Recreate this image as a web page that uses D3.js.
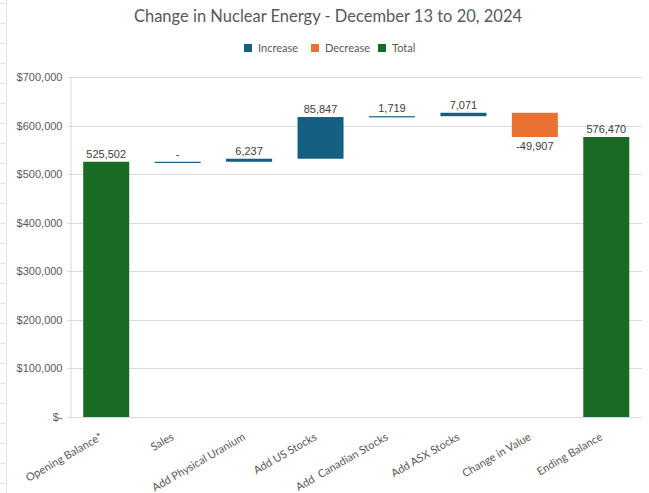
<!DOCTYPE html>
<html><head><meta charset="utf-8">
<script src="https://cdn.jsdelivr.net/npm/d3@7"></script>
<style>body{margin:0;background:#fff;} svg{display:block;}</style>
</head><body>
<svg id="chart" width="649" height="493"></svg>
<script>
const categories = ["Opening Balance*", "Sales", "Add Physical Uranium", "Add US Stocks", "Add  Canadian Stocks", "Add ASX Stocks", "Change in Value", "Ending Balance"];
const values = [525502, 0, 6237, 85847, 1719, 7071, -49907, 576470];
const kinds = ["Total", "Increase", "Increase", "Increase", "Increase", "Increase", "Decrease", "Total"];
const yTicks = [0, 100000, 200000, 300000, 400000, 500000, 600000, 700000];
const legendItems = ["Increase", "Decrease", "Total"];
const colors = {Increase: "#156082", Decrease: "#E97132", Total: "#196B24"};

const svg = d3.select("#chart");
const W = 649, H = 493;
const plot = {left: 70.5, right: 642, top: 77, bottom: 417};
const fmt = d3.formatLocale({decimal: ".", thousands: ",", grouping: [3], currency: ["$", ""], minus: "-"}).format(",");

// faint sheet gridlines at left edge
const sheet = svg.append("g");
sheet.append("line").attr("x1", 6.5).attr("x2", 6.5).attr("y1", 0).attr("y2", H).attr("stroke", "#e4e4e4");
for (let y = 3.5; y < H; y += 20) {
  sheet.append("line").attr("x1", 0).attr("x2", 6).attr("y1", y).attr("y2", y).attr("stroke", "#e4e4e4");
}

const x = d3.scaleBand().domain(categories).range([plot.left, plot.right]).paddingInner(0.356).paddingOuter(0.178);
const y = d3.scaleLinear().domain([0, 700000]).range([plot.bottom, plot.top]);

// gridlines + y axis
const yAxis = d3.axisLeft(y).tickValues(yTicks).tickSize(-(plot.right - plot.left)).tickPadding(8)
  .tickFormat(d => d === 0 ? "$-" : "$" + fmt(d));
const gy = svg.append("g").attr("transform", `translate(${plot.left},0)`).call(yAxis);
gy.select(".domain").attr("stroke", "#d9d9d9");
gy.selectAll(".tick line").attr("stroke", "#d9d9d9").attr("x1", -3);
gy.selectAll(".tick text").attr("fill", "#595959").style("font-family", "'Liberation Sans', Arial, sans-serif").style("font-size", "11px");
gy.selectAll(".tick").attr("transform", d => `translate(0,${Math.round(y(d)) + 0.5})`);

// compute waterfall spans
let running = 0;
const bars = categories.map((c, i) => {
  let start, end;
  if (kinds[i] === "Total") { start = 0; end = values[i]; running = values[i]; }
  else { start = running; end = running + values[i]; running = end; }
  return {cat: c, value: values[i], kind: kinds[i], start, end};
});

svg.append("g").selectAll("rect").data(bars).join("rect")
  .attr("x", d => x(d.cat))
  .attr("width", x.bandwidth())
  .attr("y", d => Math.min(y(d.start), y(d.end)))
  .attr("height", d => Math.max(Math.abs(y(d.start) - y(d.end)), 1.2))
  .attr("fill", d => colors[d.kind]);

// x axis baseline
svg.append("line").attr("x1", plot.left - 3).attr("x2", plot.right).attr("y1", plot.bottom + 0.5).attr("y2", plot.bottom + 0.5).attr("stroke", "#d9d9d9");

// data labels
svg.append("g").selectAll("text").data(bars).join("text")
  .attr("x", d => x(d.cat) + x.bandwidth() / 2)
  .attr("y", d => d.value < 0 ? y(d.end) + 13 : y(Math.max(d.start, d.end)) - 4)
  .attr("text-anchor", "middle")
  .attr("fill", "#404040")
  .style("font-family", "'Liberation Sans', Arial, sans-serif")
  .style("font-size", "11px")
  .text(d => d.value === 0 ? "-" : fmt(d.value));

// category labels
svg.append("g").selectAll("text").data(categories).join("text")
  .attr("transform", d => `translate(${x(d) + x.bandwidth() / 2 - 3},${plot.bottom + 22}) rotate(-30)`)
  .attr("text-anchor", "end")
  .attr("fill", "#595959")
  .style("font-family", "Lato, sans-serif")
  .style("font-size", "11px")
  .style("white-space", "pre")
  .text(d => d);

// title
svg.append("text").attr("x", 328).attr("y", 22).attr("text-anchor", "middle")
  .attr("fill", "#595959").style("font-family", "Lato, sans-serif").style("font-size", "16.5px")
  .text("Change in Nuclear Energy - December 13 to 20, 2024");

// legend
const legendX = [244, 311, 378];
const lg = svg.append("g").selectAll("g").data(legendItems).join("g")
  .attr("transform", (d, i) => `translate(${legendX[i]},44)`);
lg.append("rect").attr("width", 8).attr("height", 8).attr("fill", d => colors[d]);
lg.append("text").attr("x", 14).attr("y", 8).attr("fill", "#595959")
  .style("font-family", "Lato, sans-serif").style("font-size", "11px").text(d => d);
</script>
</body></html>
